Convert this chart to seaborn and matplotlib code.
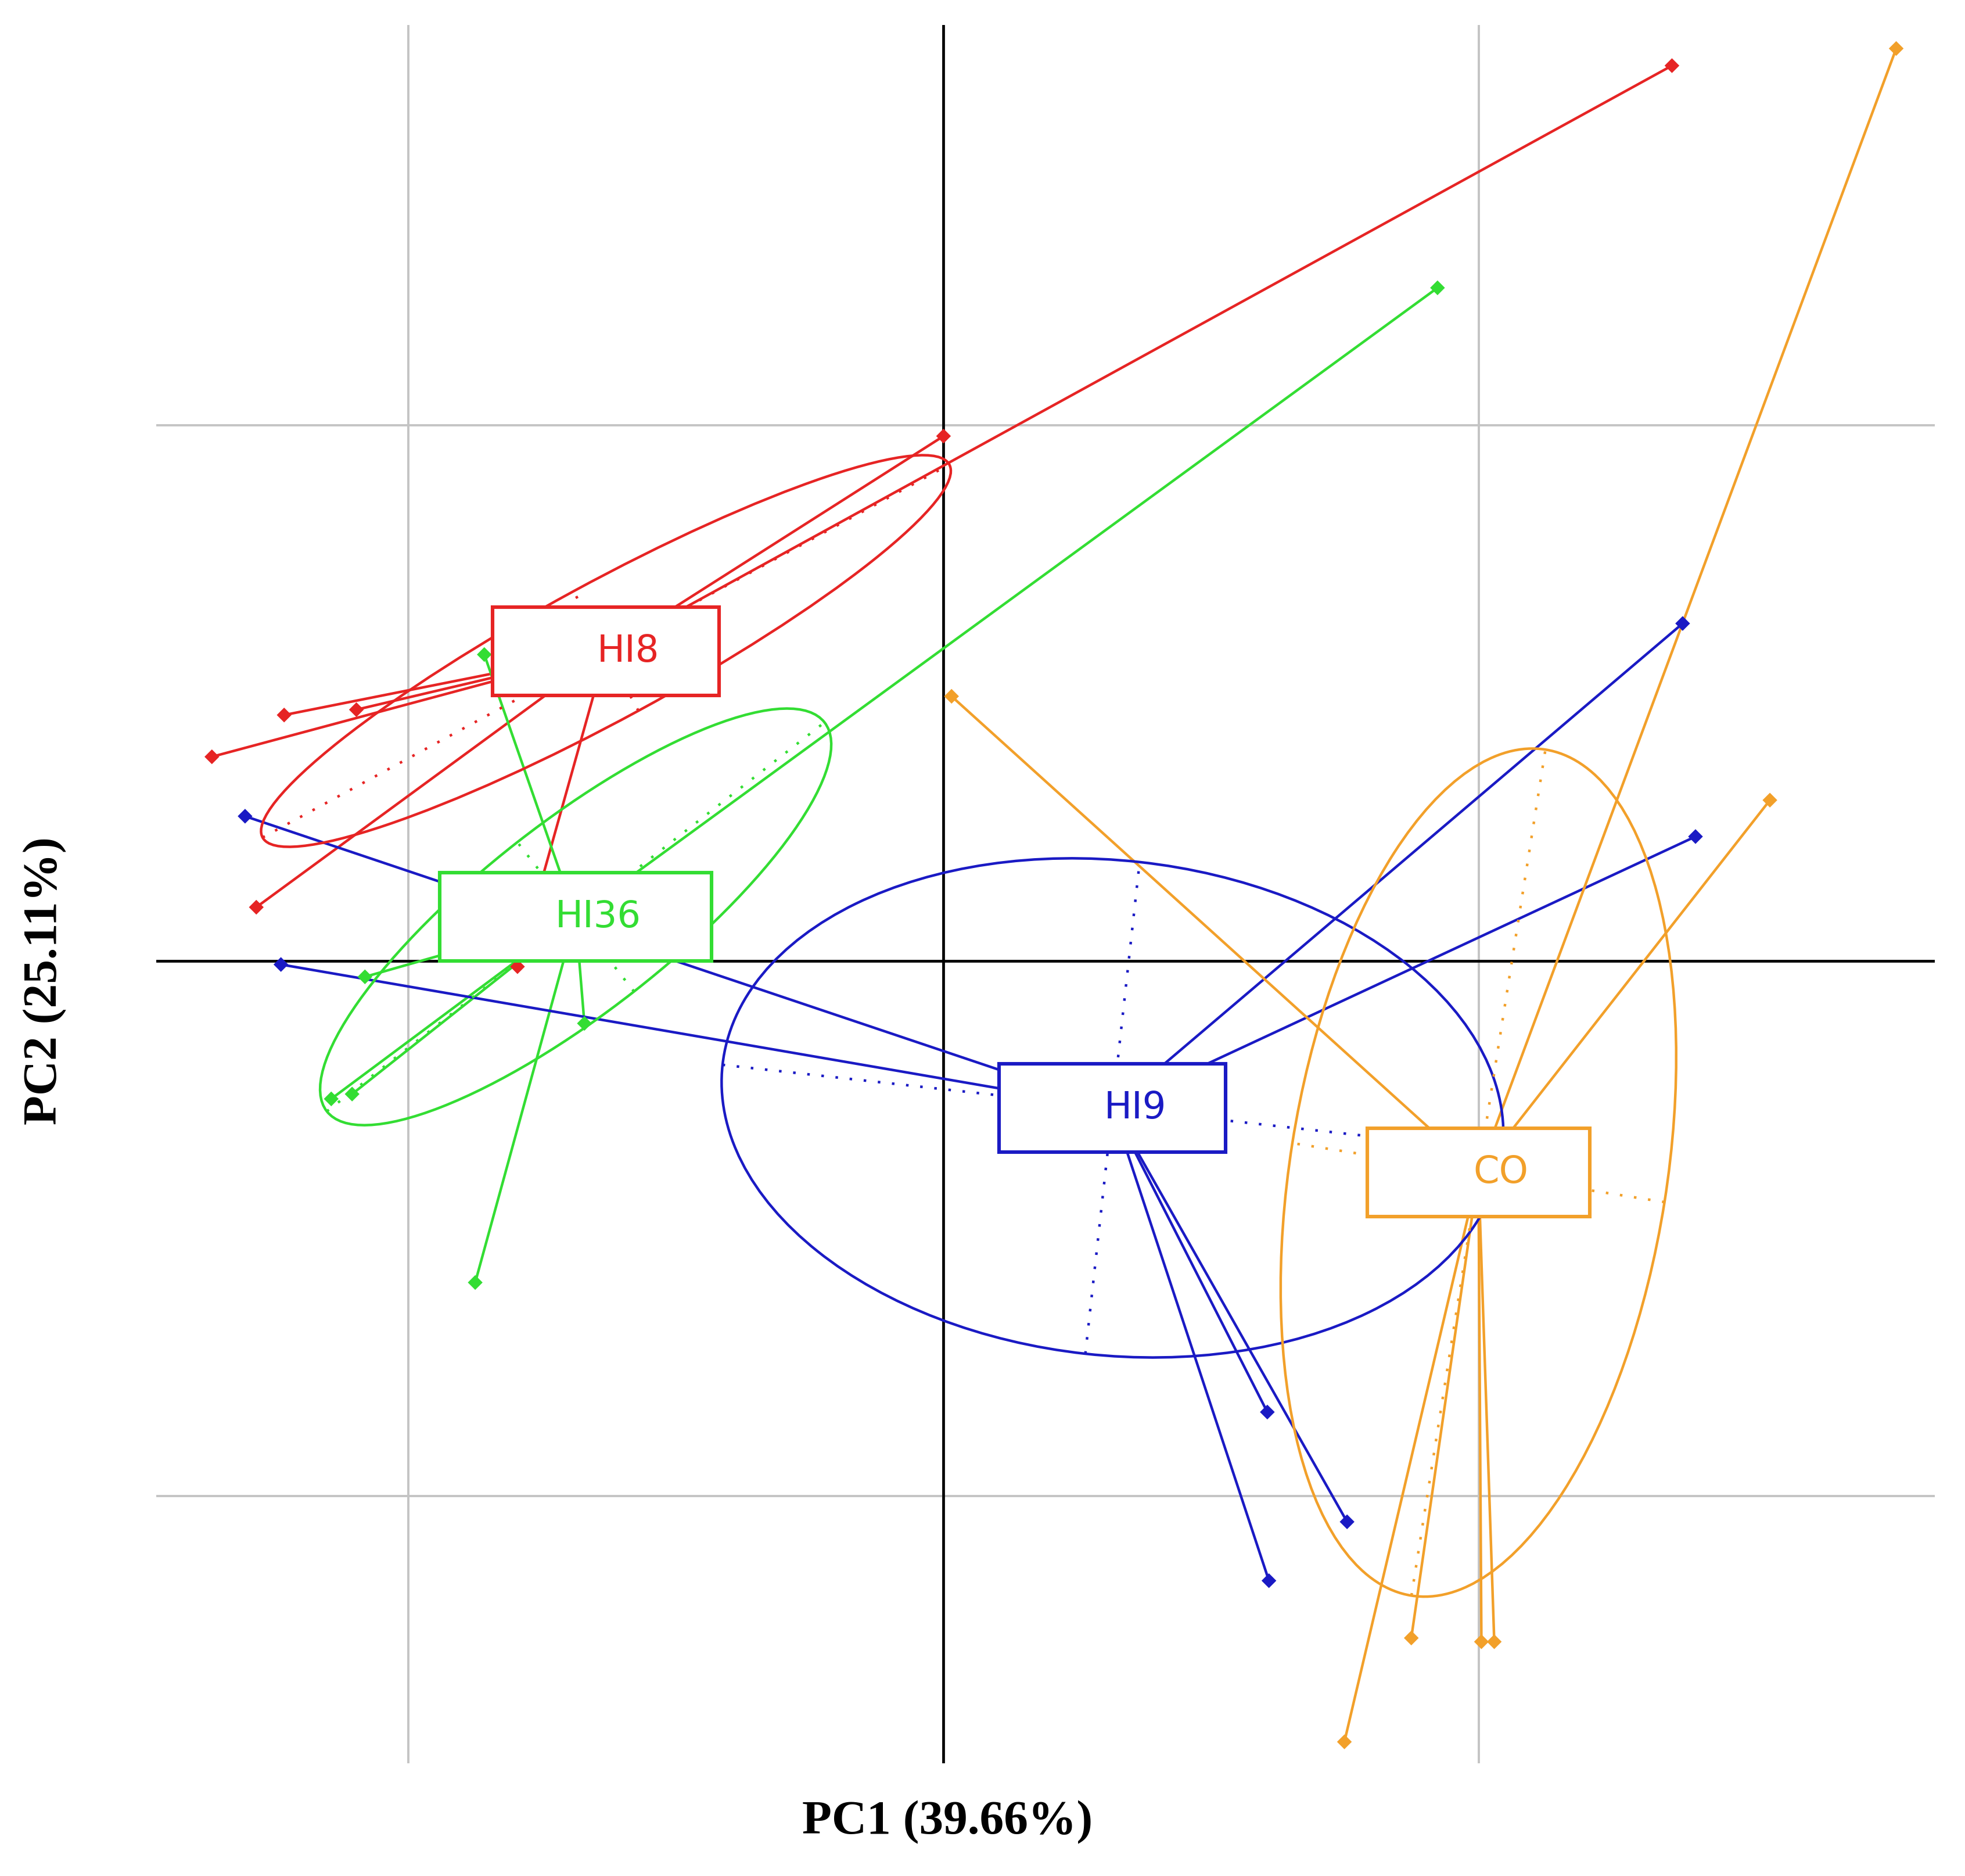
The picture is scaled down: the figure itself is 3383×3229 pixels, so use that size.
import numpy as np
import pandas as pd
import matplotlib.pyplot as plt
import seaborn as sns
from matplotlib.patches import Ellipse, Rectangle

# groups and their colours
groups = ['HI8', 'HI36', 'HI9', 'CO']
colors = {'HI8': '#e62424', 'HI36': '#33dd33', 'HI9': '#1a1ac4', 'CO': '#f2a02a'}

# PC scores (7 samples per group)
hi8_pc1 = [1.361, 0.000, -1.232, -1.367, -1.284, -1.097, -0.796]
hi8_pc2 = [1.672, 0.980, 0.459, 0.381, 0.100, 0.469, -0.011]
hi36_pc1 = [0.923, -0.858, -1.081, -1.144, -1.105, -0.671, -0.875]
hi36_pc2 = [1.257, 0.572, -0.030, -0.258, -0.249, -0.117, -0.601]
hi9_pc1 = [1.381, 1.405, -1.305, -1.238, 0.605, 0.754, 0.608]
hi9_pc2 = [0.630, 0.232, 0.270, -0.007, -0.843, -1.048, -1.158]
co_pc1 = [1.780, 1.544, 0.015, 0.874, 1.005, 1.029, 0.749]
co_pc2 = [1.704, 0.300, 0.494, -1.265, -1.272, -1.272, -1.459]

# ellipse shape per group (semi axes, angle in degrees), same order as groups
ell_major = [0.730, 0.590, 0.733, 0.800]
ell_minor = [0.127, 0.177, 0.462, 0.352]
ell_angle = [28.5, 38.0, -6.3, 81.0]

df = pd.concat([
    pd.DataFrame({'group': 'HI8', 'PC1': hi8_pc1, 'PC2': hi8_pc2}),
    pd.DataFrame({'group': 'HI36', 'PC1': hi36_pc1, 'PC2': hi36_pc2}),
    pd.DataFrame({'group': 'HI9', 'PC1': hi9_pc1, 'PC2': hi9_pc2}),
    pd.DataFrame({'group': 'CO', 'PC1': co_pc1, 'PC2': co_pc2}),
], ignore_index=True)

centroids = df.groupby('group')[['PC1', 'PC2']].mean()

# label box sizes (data units)
box_w = {'HI8': 0.423, 'HI36': 0.508, 'HI9': 0.423, 'CO': 0.415}
box_h = 0.165

sns.set_style('white')

fig = plt.figure(figsize=(3383 / 200, 3229 / 200), dpi=200)
ax = fig.add_axes([0.0795, 0.0601, 0.9051, 0.9266])

# grid and axes through the origin
ax.set_xticks([-1, 0, 1])
ax.set_yticks([-1, 0, 1])
ax.grid(True, color='#c4c4c4', lw=1.4)
ax.set_axisbelow(True)
ax.axhline(0, color='black', lw=1.7, zorder=1)
ax.axvline(0, color='black', lw=1.7, zorder=1)

lw = 1.6
dots = (0, (1, 4.5))

# stars: each sample joined to its group centroid
for _, row in df.iterrows():
    cx, cy = centroids.loc[row['group']]
    ax.plot([row['PC1'], cx], [row['PC2'], cy], color=colors[row['group']], lw=lw, zorder=2)

# ellipses with their dotted axes
for g, a, b, ang in zip(groups, ell_major, ell_minor, ell_angle):
    cx, cy = centroids.loc[g]
    ax.add_patch(Ellipse((cx, cy), 2 * a, 2 * b, angle=ang, fill=False,
                         ec=colors[g], lw=lw, zorder=2))
    t = np.deg2rad(ang)
    ax.plot([cx - a * np.cos(t), cx + a * np.cos(t)], [cy - a * np.sin(t), cy + a * np.sin(t)],
            color=colors[g], lw=lw, ls=dots, zorder=2)
    ax.plot([cx + b * np.sin(t), cx - b * np.sin(t)], [cy - b * np.cos(t), cy + b * np.cos(t)],
            color=colors[g], lw=lw, ls=dots, zorder=2)

sns.scatterplot(data=df, x='PC1', y='PC2', hue='group', palette=colors, marker='D',
                s=42, linewidth=0, legend=False, ax=ax, zorder=3)

# group labels in boxes
for g in groups:
    cx, cy = centroids.loc[g]
    ax.add_patch(Rectangle((cx - box_w[g] / 2, cy - box_h / 2), box_w[g], box_h,
                           fc='white', ec=colors[g], lw=2.2, zorder=5))
    ax.text(cx + 0.042, cy, g, color=colors[g], fontsize=23, family='DejaVu Sans',
            ha='center', va='center', zorder=6)

ax.set_xlim(-1.471, 1.852)
ax.set_ylim(-1.499, 1.748)
ax.tick_params(length=0, labelbottom=False, labelleft=False)
for s in ax.spines.values():
    s.set_visible(False)

ax.set_xlabel('PC1 (39.66%)', fontsize=30, fontweight='bold', family='Liberation Serif', color='black')
ax.set_ylabel('PC2 (25.11%)', fontsize=30, fontweight='bold', family='Liberation Serif', color='black')
ax.xaxis.label.set_va('center')
ax.yaxis.label.set_va('center')
ax.xaxis.set_label_coords(0.4448, -0.034)
ax.yaxis.set_label_coords(-0.0624, 0.450)

plt.savefig('out.png', dpi=200)
